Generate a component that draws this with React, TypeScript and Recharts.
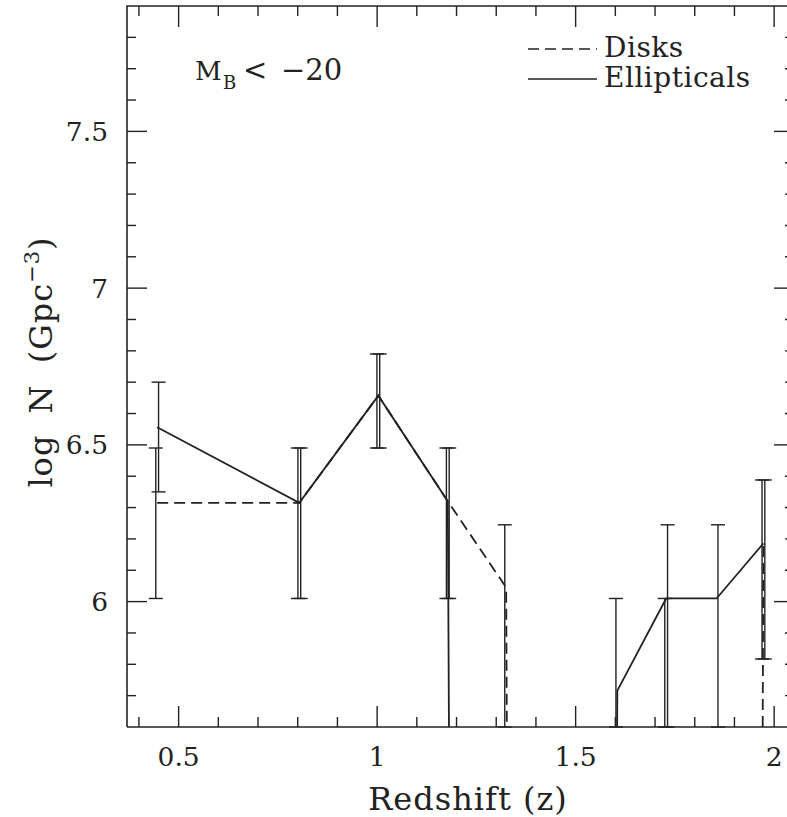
import { ComposedChart, ErrorBar, Legend, Line, Scatter, XAxis, YAxis } from 'recharts';

// log N drawn for an empty bin: far below the frame, so only a near-vertical line into it shows
const EMPTY = -30;

// bin redshifts shared by both samples
const binZ = [0.446, 0.804, 1.003, 1.178, 1.325, 1.465, 1.605, 1.728, 1.855, 1.973];

const diskLogN = [6.315, 6.315, 6.657, 6.32, 6.045, EMPTY, EMPTY, EMPTY, EMPTY, 6.186];
const diskLo = [6.01, 6.01, 6.49, 6.01, EMPTY, null, EMPTY, EMPTY, null, 5.817];
const diskHi = [6.49, 6.49, 6.79, 6.49, 6.245, null, 6.01, 6.01, null, 6.388];

const ellLogN = [6.556, 6.315, 6.657, 6.32, EMPTY, EMPTY, 5.716, 6.01, 6.01, 6.186];
const ellLo = [6.35, 6.01, 6.49, 6.01, null, null, null, EMPTY, EMPTY, 5.817];
const ellHi = [6.7, 6.49, 6.79, 6.49, null, null, null, 6.245, 6.245, 6.388];

const xTicks = [0.4, 0.5, 0.6, 0.7, 0.8, 0.9, 1, 1.1, 1.2, 1.3, 1.4, 1.5, 1.6, 1.7, 1.8, 1.9, 2];
const xLabels = [0.5, 1, 1.5, 2];
const yTicks = [5.7, 5.8, 5.9, 6, 6.1, 6.2, 6.3, 6.4, 6.5, 6.6, 6.7, 6.8, 6.9, 7, 7.1, 7.2, 7.3, 7.4, 7.5, 7.6, 7.7, 7.8];
const yLabels = [6, 6.5, 7, 7.5];

const X_DOMAIN = [0.37, 2.05];
const Y_DOMAIN = [5.6, 7.9];
// error bars of the two samples are drawn a hair apart so both stay visible
const BAR_SHIFT = 0.0035;

const CHART_W = 800;
const CHART_H = 817;
const TOP = 6;
const RIGHT = 5;
const LEFT_AXIS_W = 127;
const RIGHT_AXIS_W = 1;
const X_AXIS_H = 90;
const PLOT_W = CHART_W - RIGHT - LEFT_AXIS_W - RIGHT_AXIS_W;

const INK = '#222';
const FONT = '"DejaVu Serif", serif';
const DISK_DASH = '11 6';

const lineRows = (v: number[]) => binZ.map((z, i) => ({ z, logN: v[i] }));

// bars below the frame are cut at its bottom edge, so the cap sits on the axis line
const barRows = (lo: (number | null)[], hi: (number | null)[], shift: number) =>
	binZ
		.map((z, i) => ({ z: z + shift, lo: lo[i], hi: hi[i] }))
		.filter((r) => r.lo != null && r.hi != null)
		.map((r) => {
			const a = Math.max(r.lo as number, Y_DOMAIN[0]);
			const b = r.hi as number;
			const half = (b - a) / 2;
			return { z: r.z, mid: a + half, err: [half, half] };
		});

const isMajor = (list: number[], v: number) => list.some((t) => Math.abs(t - v) < 1e-6);

function BottomTick({ x, y, payload }: any) {
	const major = isMajor(xLabels, payload.value);
	return (
		<g>
			<line x1={x} x2={x} y1={y} y2={y - (major ? 21 : 10)} stroke={INK} strokeWidth={1.4} />
			{major && (
				<text x={x} y={y + 39} textAnchor="middle" fontSize={26.5} fill={INK} fontFamily={FONT}>
					{String(payload.value)}
				</text>
			)}
		</g>
	);
}

function LeftTick({ x, y, payload }: any) {
	const major = isMajor(yLabels, payload.value);
	return (
		<g>
			<line x1={x} x2={x + (major ? 20 : 9)} y1={y} y2={y} stroke={INK} strokeWidth={1.4} />
			{major && (
				<text x={x - 19} y={y} dy="0.36em" textAnchor="end" fontSize={26.5} fill={INK} fontFamily={FONT}>
					{String(payload.value)}
				</text>
			)}
		</g>
	);
}

function RightTick({ x, y, payload }: any) {
	const major = isMajor(yLabels, payload.value);
	return <line x1={x} x2={x - (major ? 20 : 9)} y1={y} y2={y} stroke={INK} strokeWidth={1.4} />;
}

// top edge of the frame with its inward ticks, laid over the chart
function TopEdge() {
	const px = (t: number) => LEFT_AXIS_W + ((t - X_DOMAIN[0]) / (X_DOMAIN[1] - X_DOMAIN[0])) * PLOT_W;
	return (
		<g stroke={INK}>
			<line x1={LEFT_AXIS_W - 0.8} x2={LEFT_AXIS_W + PLOT_W} y1={TOP} y2={TOP} strokeWidth={1.6} />
			{xTicks.map((t) => (
				<line key={t} x1={px(t)} x2={px(t)} y1={TOP} y2={TOP + (isMajor(xLabels, t) ? 21 : 10)} strokeWidth={1.4} />
			))}
		</g>
	);
}

function KeyBox({ payload }: any) {
	const items = (payload || []).filter((p: any) => p.type !== 'none');
	return (
		<svg width={260} height={72}>
			{items.map((p: any, i: number) => {
				const dashed = p.value === 'Disks';
				const cy = 19 + i * 30;
				return (
					<g key={p.value}>
						<line x1={8} x2={77} y1={cy} y2={cy} stroke={INK} strokeWidth={1.6} strokeDasharray={dashed ? DISK_DASH : undefined} />
						<text x={84} y={cy + 8} fontSize={28} fill={INK} fontFamily={FONT} letterSpacing={0.5}>
							{p.value}
						</text>
					</g>
				);
			})}
		</svg>
	);
}

export default function App() {
	const disks = lineRows(diskLogN);
	const ells = lineRows(ellLogN);
	const diskBars = barRows(diskLo, diskHi, -BAR_SHIFT);
	const ellBars = barRows(ellLo, ellHi, BAR_SHIFT);

	return (
		<div style={{ position: 'absolute', left: 0, top: 0, width: 787, height: 817, overflow: 'hidden', background: '#fff' }}>
			<ComposedChart width={CHART_W} height={CHART_H} margin={{ top: TOP, right: RIGHT, bottom: 0, left: 0 }} style={{ fontFamily: FONT }}>
				<XAxis
					dataKey="z"
					type="number"
					domain={X_DOMAIN}
					allowDataOverflow
					ticks={xTicks}
					interval={0}
					height={X_AXIS_H}
					tickSize={0}
					tickMargin={0}
					tickLine={false}
					tick={<BottomTick />}
					axisLine={{ stroke: INK, strokeWidth: 1.6 }}
				/>
				<YAxis
					yAxisId={0}
					type="number"
					domain={Y_DOMAIN}
					allowDataOverflow
					ticks={yTicks}
					interval={0}
					width={LEFT_AXIS_W}
					tickSize={0}
					tickMargin={0}
					tickLine={false}
					tick={<LeftTick />}
					axisLine={{ stroke: INK, strokeWidth: 1.6 }}
				/>
				<YAxis
					yAxisId="right"
					orientation="right"
					type="number"
					domain={Y_DOMAIN}
					allowDataOverflow
					ticks={yTicks}
					interval={0}
					width={RIGHT_AXIS_W}
					tickSize={0}
					tickMargin={0}
					tickLine={false}
					tick={<RightTick />}
					axisLine={{ stroke: INK, strokeWidth: 1.6 }}
				/>
				<Legend
					content={<KeyBox />}
					layout="vertical"
					align="center"
					verticalAlign="middle"
					wrapperStyle={{ position: 'absolute', left: 520, top: 30, width: 260, height: 72 }}
				/>
				<Line
					name="Disks"
					data={disks}
					dataKey="logN"
					type="linear"
					stroke={INK}
					strokeWidth={1.8}
					strokeDasharray={DISK_DASH}
					dot={false}
					isAnimationActive={false}
				/>
				<Line
					name="Ellipticals"
					data={ells}
					dataKey="logN"
					type="linear"
					stroke={INK}
					strokeWidth={1.8}
					dot={false}
					isAnimationActive={false}
				/>
				<Scatter name="disk errors" data={diskBars} dataKey="mid" legendType="none" shape={() => <g />} isAnimationActive={false}>
					<ErrorBar dataKey="err" direction="y" width={7} stroke={INK} strokeWidth={1.4} />
				</Scatter>
				<Scatter name="elliptical errors" data={ellBars} dataKey="mid" legendType="none" shape={() => <g />} isAnimationActive={false}>
					<ErrorBar dataKey="err" direction="y" width={7} stroke={INK} strokeWidth={1.4} />
				</Scatter>
			</ComposedChart>
			<svg width={787} height={817} style={{ position: 'absolute', left: 0, top: 0, pointerEvents: 'none', zIndex: 5 }}>
				<TopEdge />
				<g fill={INK} fontFamily={FONT}>
					<text x={195} y={80} fontSize={26}>
						M
					</text>
					<text x={223} y={89} fontSize={18}>
						B
					</text>
					<text x={243} y={80} fontSize={29}>
						&lt;
					</text>
					<text x={281} y={80} fontSize={29}>
						−20
					</text>
					<text x={468} y={810} fontSize={32} letterSpacing={1} textAnchor="middle">
						Redshift (z)
					</text>
					<text
						x={52}
						y={362}
						fontSize={32}
						letterSpacing={1}
						wordSpacing={10}
						textAnchor="middle"
						transform="rotate(-90 52 362)"
					>
						log N (Gpc
						<tspan fontSize={21} dy={-13}>
							−3
						</tspan>
						<tspan dy={13}>)</tspan>
					</text>
				</g>
			</svg>
		</div>
	);
}
